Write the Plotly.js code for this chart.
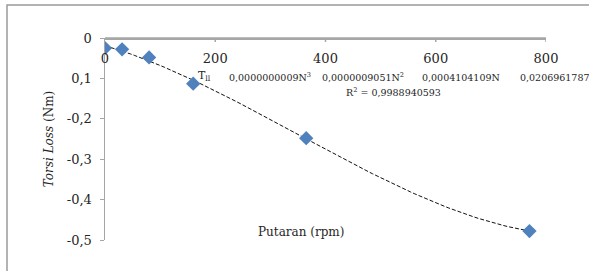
<!DOCTYPE html>
<html><head><meta charset="utf-8">
<script src="https://cdn.plot.ly/plotly-3.0.1.min.js"></script>
<style>html,body{margin:0;padding:0;background:#fff}#c{width:589px;height:271px}</style>
</head><body><div id="c"></div>
<script>
// Data
const putaran = [0, 31, 80, 160, 365, 770];          // rpm
const torsiLoss = [-0.025, -0.028, -0.048, -0.113, -0.248, -0.478]; // Nm
const xTickVals = [0, 200, 400, 600, 800];
const xTickText = ['0', '200', '400', '600', '800'];
const yTickVals = [0, -0.1, -0.2, -0.3, -0.4, -0.5];
const yTickText = ['0', '0,1', '-0,2', '-0,3', '-0,4', '-0,5'];
const eqTerms = ['T<sub>ll</sub>', '0,0000000009N<sup>3</sup>', '0,0000009051N<sup>2</sup>', '0,0004104109N', '0,0206961787'];
const r2Text = 'R<sup>2</sup> = 0,9988940593';

// Cubic least-squares trendline (like the spreadsheet's polynomial trendline)
function polyfit(xs, ys, deg) {
  const n = deg + 1;
  const A = Array.from({length: n}, () => new Array(n + 1).fill(0));
  for (let i = 0; i < xs.length; i++) {
    for (let r = 0; r < n; r++) {
      for (let c = 0; c < n; c++) A[r][c] += Math.pow(xs[i], r + c);
      A[r][n] += ys[i] * Math.pow(xs[i], r);
    }
  }
  for (let p = 0; p < n; p++) {
    let m = p;
    for (let r = p + 1; r < n; r++) if (Math.abs(A[r][p]) > Math.abs(A[m][p])) m = r;
    [A[p], A[m]] = [A[m], A[p]];
    for (let r = 0; r < n; r++) {
      if (r === p) continue;
      const f = A[r][p] / A[p][p];
      for (let c = p; c <= n; c++) A[r][c] -= f * A[p][c];
    }
  }
  return A.map((row, i) => row[n] / row[i]);
}
const coef = polyfit(putaran, torsiLoss, 3);
const xmin = Math.min(...putaran), xmax = Math.max(...putaran);
const tx = [], ty = [];
for (let k = 0; k <= 100; k++) {
  const x = xmin + (xmax - xmin) * k / 100;
  tx.push(x);
  ty.push(coef.reduce((s, c, i) => s + c * Math.pow(x, i), 0));
}

const L = 105, R = 43, T = 38, B = 31, W = 589, H = 271;
const pw = W - L - R, ph = H - T - B;
const px = v => (v - L) / pw;
const py = v => (H - B - v) / ph;

const serif = 'DejaVu Serif, Liberation Serif, serif';
const ink = '#262626';
const axisGrey = '#a6a6a6';
const eqX = [196, 227, 320, 420, 518];
const annotations = eqTerms.map((t, i) => ({
  text: t, xref: 'paper', yref: 'paper', x: px(eqX[i]), y: py(i === 0 ? 76 : 77),
  xanchor: 'left', yanchor: 'middle', showarrow: false,
  font: {family: serif, size: i === 0 ? 11 : 9.5, color: ink}
}));
annotations.push({text: r2Text, xref: 'paper', yref: 'paper', x: px(393), y: py(92),
  xanchor: 'center', yanchor: 'middle', showarrow: false,
  font: {family: serif, size: 9.5, color: ink}});
annotations.push({text: 'Putaran (rpm)', xref: 'paper', yref: 'paper', x: px(301), y: py(232),
  xanchor: 'center', yanchor: 'middle', showarrow: false,
  font: {family: serif, size: 12, color: ink}});

const data = [
  {x: tx, y: ty, mode: 'lines', line: {color: '#111', width: 1, dash: '4px,2px'}, hoverinfo: 'skip', showlegend: false},
  {x: putaran, y: torsiLoss, mode: 'markers', marker: {symbol: 'diamond', size: 11, color: '#4f81bd'}, showlegend: false}
];

// Chart frame, the x-axis line crossing at y = 0 (top edge) and its small tick marks
const shapes = [
  {type: 'rect', xref: 'paper', yref: 'paper', x0: px(7), y0: py(300), x1: px(700), y1: py(5),
    line: {color: '#9a9a9a', width: 1.5}, fillcolor: 'rgba(0,0,0,0)', layer: 'above'},
  {type: 'line', xref: 'paper', yref: 'paper', x0: 0, x1: 1, y0: 1, y1: 1,
    line: {color: axisGrey, width: 1.5}, layer: 'above'}
].concat(xTickVals.slice(1).map(v => ({type: 'line', xref: 'x', yref: 'paper', x0: v, x1: v,
    y0: 1, y1: 1 - 4 / ph, line: {color: axisGrey, width: 1.5}, layer: 'above'})));

const layout = {
  width: W, height: H,
  margin: {l: L, r: R, t: T, b: B, pad: 0},
  showlegend: false,
  xaxis: {range: [0, 800], anchor: 'free', position: 1, side: 'bottom',
    tickvals: xTickVals, ticktext: xTickText, ticks: '',
    ticklabelstandoff: 8,
    showline: true, linecolor: axisGrey, linewidth: 1.5, showgrid: false, zeroline: false,
    tickfont: {family: serif, size: 13, color: ink}},
  yaxis: {range: [-0.5, 0], tickvals: yTickVals, ticktext: yTickText, ticks: 'outside', ticklen: 4,
    tickcolor: axisGrey, showline: true, linecolor: axisGrey, linewidth: 1.5, showgrid: false, zeroline: false,
    ticklabelstandoff: 5,
    tickfont: {family: serif, size: 13, color: ink},
    title: {text: '<i>Torsi Loss</i> (Nm)', font: {family: serif, size: 12, color: ink}, standoff: 10}},
  annotations: annotations,
  shapes: shapes
};
Plotly.newPlot('c', data, layout, {displayModeBar: false, staticPlot: true});
</script></body></html>
